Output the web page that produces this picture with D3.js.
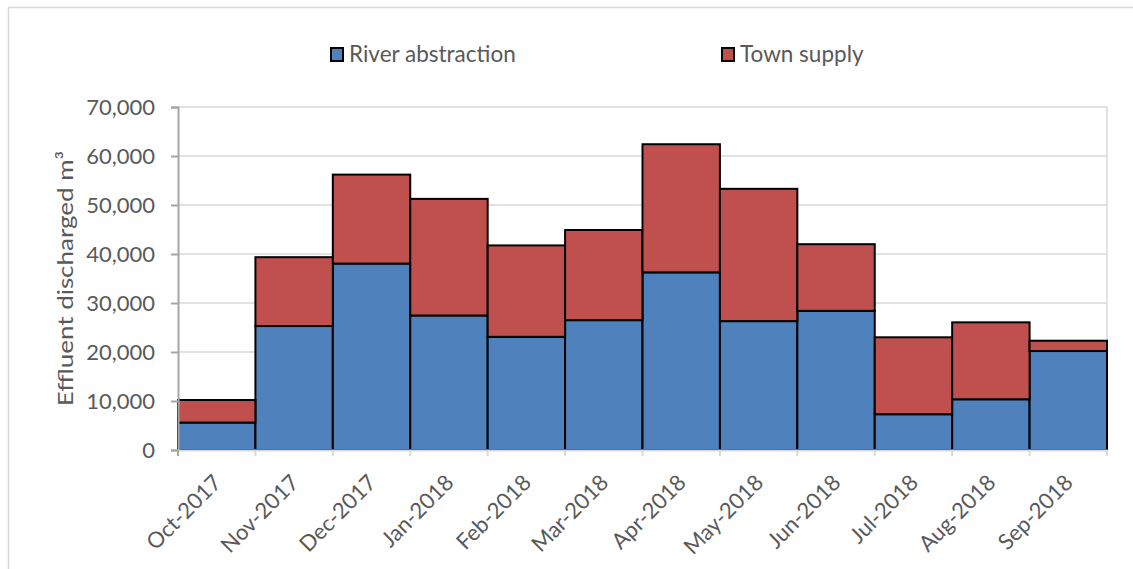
<!DOCTYPE html>
<html><head><meta charset="utf-8">
<script src="https://cdn.jsdelivr.net/npm/d3@7"></script>
<style>body{margin:0;background:#fff}svg{display:block;font-family:Lato,"Open Sans",sans-serif}</style>
</head><body><svg id="c" width="1133" height="569"></svg>
<script>
const months = ["Oct-2017","Nov-2017","Dec-2017","Jan-2018","Feb-2018","Mar-2018","Apr-2018","May-2018","Jun-2018","Jul-2018","Aug-2018","Sep-2018"];
const river = [5600,25300,38050,27450,23100,26500,36250,26300,28400,7300,10350,20200];
const town  = [4600,14050,18150,23800,18650,18400,26150,27000,13600,15700,15700,2100];
const yTicks = [0,10000,20000,30000,40000,50000,60000,70000];
const seriesNames = ["River abstraction","Town supply"];
const colors = ["#4F81BD","#C0504D"];

const svg = d3.select("#c");
const L = 178, R = 1107, T = 107, B = 450;
svg.append("rect").attr("x",8.5).attr("y",7.5).attr("width",1140).attr("height",600)
  .attr("fill","none").attr("stroke","#d9d9d9").attr("stroke-width",1.5);

const x = d3.scaleBand().domain(months).range([L,R]).padding(0);
const y = d3.scaleLinear().domain([0,70000]).range([B,T]);

// gridlines
svg.append("g").selectAll("line").data(yTicks.slice(1)).join("line")
  .attr("x1",L).attr("x2",R).attr("y1",d=>y(d)).attr("y2",d=>y(d))
  .attr("stroke","#d9d9d9").attr("stroke-width",1.5);
svg.append("line").attr("x1",R).attr("x2",R).attr("y1",T).attr("y2",B).attr("stroke","#d9d9d9").attr("stroke-width",1.5);

const stack = d3.stack().keys([0,1]).value((d,k)=>k===0?river[d]:town[d]);
const layers = stack(d3.range(months.length));
svg.append("g").selectAll("g").data(layers).join("g").attr("fill",(d,i)=>colors[i])
  .selectAll("rect").data(d=>d).join("rect")
  .attr("x",(d,i)=>x(months[i])).attr("width",x.bandwidth())
  .attr("y",d=>y(d[1])).attr("height",d=>y(d[0])-y(d[1]))
  .attr("stroke","#000").attr("stroke-width",2);

// y axis
const ya = svg.append("g").attr("transform",`translate(${L},0)`)
  .call(d3.axisLeft(y).tickValues(yTicks).tickFormat(d3.format(",")).tickSize(7).tickPadding(16));
ya.select(".domain").attr("stroke","#a6a6a6").attr("stroke-width",2);
ya.selectAll(".tick line").attr("stroke","#a6a6a6").attr("stroke-width",2);
ya.selectAll("text").attr("fill","#595959").style("font-size","22px").style("font-family","Lato");

// x axis
const xa = svg.append("g").attr("transform",`translate(0,${B})`)
  .call(d3.axisBottom(x).tickSize(0).tickFormat(""));
xa.select(".domain").attr("stroke","#d9d9d9").attr("stroke-width",2);
const bounds = months.map(m=>x(m)).concat([R]);
svg.append("g").selectAll("line").data(bounds).join("line")
  .attr("x1",d=>d).attr("x2",d=>d).attr("y1",B).attr("y2",B+6)
  .attr("stroke","#d9d9d9").attr("stroke-width",2);
svg.append("line").attr("x1",L).attr("x2",L).attr("y1",B).attr("y2",B+6).attr("stroke","#a6a6a6").attr("stroke-width",2);
svg.append("g").selectAll("text").data(months).join("text")
  .attr("transform",d=>`translate(${x(d)+x.bandwidth()/2-5},${B+23}) rotate(-45)`)
  .attr("text-anchor","end").attr("dy","0.71em")
  .attr("fill","#595959").style("font-size","22px").text(d=>d);

// y title
svg.append("text").attr("transform",`translate(73,${(T+B)/2}) rotate(-90) scale(1.18,1)`)
  .attr("text-anchor","middle").attr("fill","#595959").style("font-size","22px")
  .text("Effluent discharged m³");

// legend
const legX = [331,722];
const lg = svg.append("g").selectAll("g").data(seriesNames).join("g")
  .attr("transform",(d,i)=>`translate(${legX[i]},48)`);
lg.append("rect").attr("width",12).attr("height",13).attr("fill",(d,i)=>colors[i])
  .attr("stroke","#000").attr("stroke-width",2);
lg.append("text").attr("x",18).attr("y",14).attr("fill","#595959").style("font-size","22.5px").text(d=>d);
</script></body></html>
